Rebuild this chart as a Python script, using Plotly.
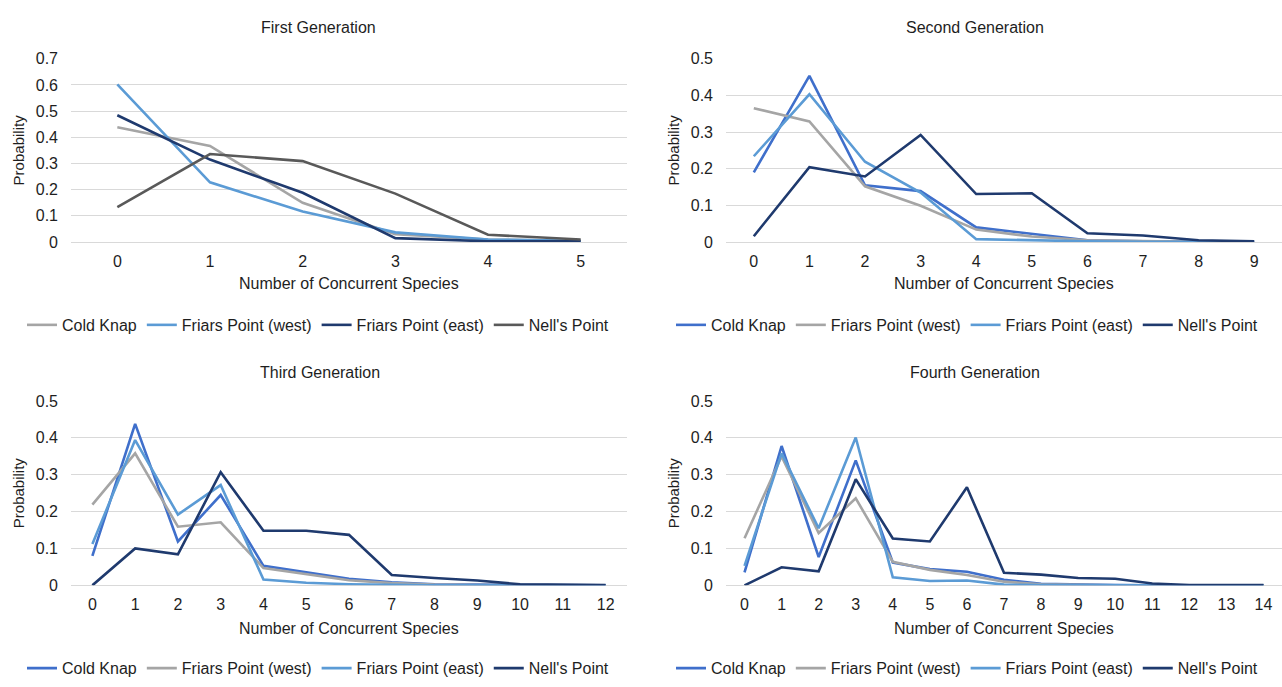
import plotly.graph_objects as go

# ---------------- data ----------------
series_names = ["Cold Knap", "Friars Point (west)", "Friars Point (east)", "Nell's Point"]

gen1_x = [0, 1, 2, 3, 4, 5]
gen1_cold_knap = [0.438, 0.367, 0.150, 0.030, 0.010, 0.005]
gen1_fp_west = [0.602, 0.228, 0.117, 0.037, 0.010, 0.005]
gen1_fp_east = [0.484, 0.315, 0.188, 0.015, 0.003, 0.003]
gen1_nells = [0.133, 0.336, 0.309, 0.185, 0.028, 0.010]

gen2_x = [0, 1, 2, 3, 4, 5, 6, 7, 8, 9]
gen2_cold_knap = [0.190, 0.453, 0.155, 0.139, 0.040, 0.022, 0.005, 0.002, 0.001, 0.000]
gen2_fp_west = [0.365, 0.329, 0.152, 0.099, 0.034, 0.015, 0.005, 0.002, 0.001, 0.000]
gen2_fp_east = [0.234, 0.403, 0.219, 0.135, 0.008, 0.004, 0.002, 0.001, 0.000, 0.000]
gen2_nells = [0.016, 0.204, 0.179, 0.292, 0.131, 0.133, 0.024, 0.018, 0.005, 0.002]

gen3_x = list(range(13))
gen3_cold_knap = [0.080, 0.438, 0.119, 0.245, 0.053, 0.035, 0.018, 0.008, 0.003, 0.002, 0.001, 0.000, 0.000]
gen3_fp_west = [0.219, 0.358, 0.159, 0.171, 0.047, 0.030, 0.014, 0.006, 0.002, 0.001, 0.000, 0.000, 0.000]
gen3_fp_east = [0.112, 0.394, 0.192, 0.272, 0.016, 0.007, 0.003, 0.001, 0.000, 0.000, 0.000, 0.000, 0.000]
gen3_nells = [0.000, 0.100, 0.084, 0.307, 0.148, 0.148, 0.137, 0.028, 0.020, 0.013, 0.003, 0.001, 0.001]

gen4_x = list(range(15))
gen4_cold_knap = [0.035, 0.378, 0.077, 0.339, 0.062, 0.044, 0.037, 0.015, 0.004, 0.002, 0.001, 0.000, 0.000, 0.000, 0.000]
gen4_fp_west = [0.128, 0.350, 0.142, 0.236, 0.064, 0.042, 0.028, 0.010, 0.003, 0.001, 0.000, 0.000, 0.000, 0.000, 0.000]
gen4_fp_east = [0.053, 0.358, 0.155, 0.401, 0.022, 0.012, 0.013, 0.002, 0.001, 0.000, 0.000, 0.000, 0.000, 0.000, 0.000]
gen4_nells = [0.000, 0.049, 0.038, 0.288, 0.127, 0.119, 0.266, 0.034, 0.029, 0.020, 0.018, 0.005, 0.001, 0.001, 0.001]

titles = ["First Generation", "Second Generation", "Third Generation", "Fourth Generation"]
x_title = "Number of Concurrent Species"
y_title = "Probability"

# ---------------- styling ----------------
W, H = 1282, 687
FONT = "Liberation Sans, Arial, sans-serif"
TXT = "#1E1E1E"
GRID = "#D9D9D9"

colors_gen1 = ["#A5A5A5", "#5B9BD5", "#1F3A6E", "#595959"]
colors_rest = ["#3F6FCB", "#A5A5A5", "#5B9BD5", "#1F3A6E"]

def px_x(p):
    return p / W

def px_y(p):
    return 1 - p / H

panels = [
    dict(x=gen1_x, ys=[gen1_cold_knap, gen1_fp_west, gen1_fp_east, gen1_nells], colors=colors_gen1,
         xd=(71, 627), yd=(52, 240), ymax=0.7, title_x=318, title_y=20, legend_x=318, legend_y=325,
         ytitle_x=18),
    dict(x=gen2_x, ys=[gen2_cold_knap, gen2_fp_west, gen2_fp_east, gen2_nells], colors=colors_rest,
         xd=(726, 1282), yd=(52, 240), ymax=0.5, title_x=975, title_y=20, legend_x=967, legend_y=325,
         ytitle_x=673),
    dict(x=gen3_x, ys=[gen3_cold_knap, gen3_fp_west, gen3_fp_east, gen3_nells], colors=colors_rest,
         xd=(71, 627), yd=(403, 592), ymax=0.5, title_x=320, title_y=374, legend_x=318, legend_y=677,
         ytitle_x=18),
    dict(x=gen4_x, ys=[gen4_cold_knap, gen4_fp_west, gen4_fp_east, gen4_nells], colors=colors_rest,
         xd=(726, 1282), yd=(403, 592), ymax=0.5, title_x=975, title_y=374, legend_x=967, legend_y=677,
         ytitle_x=673),
]

fig = go.Figure()
annotations = []
layout = dict(
    width=W, height=H, margin=dict(l=0, r=0, t=0, b=0),
    paper_bgcolor="white", plot_bgcolor="white",
    font=dict(family=FONT, color=TXT, size=16),
    showlegend=True,
)

for i, p in enumerate(panels):
    k = i + 1
    xa = "x" if k == 1 else f"x{k}"
    ya = "y" if k == 1 else f"y{k}"
    leg = "legend" if k == 1 else f"legend{k}"
    for name, yv, c in zip(series_names, p["ys"], p["colors"]):
        fig.add_trace(go.Scatter(
            x=p["x"], y=yv, name=name, mode="lines",
            line=dict(color=c, width=2.6),
            xaxis=xa, yaxis=ya, legend=leg, hoverinfo="skip",
        ))
    nx = len(p["x"])
    layout[f"xaxis{'' if k == 1 else k}"] = dict(
        domain=[px_x(p["xd"][0]), px_x(p["xd"][1])],
        anchor=ya, range=[-0.5, nx - 0.5],
        tickmode="array", tickvals=p["x"], ticktext=[str(v) for v in p["x"]],
        showgrid=False, zeroline=False, showline=False,
        ticks="", ticklabelstandoff=8,
        tickfont=dict(size=16, color=TXT, family=FONT),
        fixedrange=True,
    )
    layout[f"yaxis{'' if k == 1 else k}"] = dict(
        domain=[px_y(p["yd"][1]), px_y(p["yd"][0])],
        anchor=xa, range=[0, p["ymax"]], dtick=0.1,
        tickformat="~g",
        showgrid=True, gridcolor=GRID, gridwidth=1.2,
        zeroline=True, zerolinecolor=GRID, zerolinewidth=1.2,
        showline=False, ticks="", ticklabelstandoff=12,
        tickfont=dict(size=16, color=TXT, family=FONT),
        fixedrange=True,
    )
    layout[leg] = dict(
        orientation="h", x=px_x(p["legend_x"]), y=px_y(p["legend_y"]),
        xanchor="center", yanchor="middle",
        font=dict(size=16, color=TXT, family=FONT),
        bgcolor="rgba(0,0,0,0)", itemwidth=30, tracegroupgap=0,
    )
    annotations.append(dict(
        text=titles[i], x=px_x(p["title_x"]), y=px_y(p["title_y"]),
        xref="paper", yref="paper", xanchor="center", yanchor="middle",
        showarrow=False, font=dict(size=16, color=TXT, family=FONT),
    ))
    xt_y = 283 if p["yd"][0] < 300 else 636
    annotations.append(dict(
        text=x_title, x=px_x((p["xd"][0] + p["xd"][1]) / 2), y=px_y(xt_y),
        xref="paper", yref="paper", xanchor="center", yanchor="middle",
        showarrow=False, font=dict(size=16, color=TXT, family=FONT),
    ))
    annotations.append(dict(
        text=y_title, x=px_x(p["ytitle_x"]), y=px_y((p["yd"][0] + p["yd"][1]) / 2),
        xref="paper", yref="paper", xanchor="center", yanchor="middle",
        textangle=-90, showarrow=False, font=dict(size=15, color=TXT, family=FONT),
    ))

layout["annotations"] = annotations
fig.update_layout(**layout)

fig.write_html("out.html", config={"displayModeBar": False},
               post_script="document.body.style.margin='0';document.body.style.overflow='hidden';")
